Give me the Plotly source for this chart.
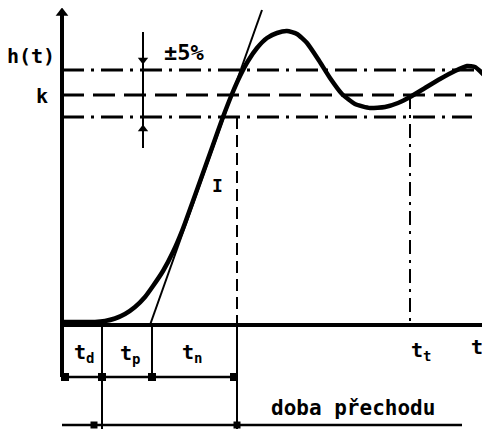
import plotly.graph_objects as go

# ---- data (time units, response units) ----
t_curve = [0, 33, 43, 53, 63, 73, 83, 91, 101, 111, 121, 131, 141, 151, 161, 170, 178, 186, 195,
           205, 215, 225, 235, 245, 256, 268, 280, 293, 308, 323, 336, 348, 363, 378, 393, 405, 413,
           418, 423]
h_curve = [3, 3, 4, 6.5, 11, 18, 28, 39, 54, 73, 96.5, 124, 152, 180, 208, 231, 249, 264, 277,
           287, 292, 294, 291, 282, 266, 247, 231, 221, 217, 218, 222, 228, 237, 246, 254, 259, 258,
           254, 249]
tangent_t = [88, 200]
tangent_h = [0, 315]
K = 230
BAND_HI = 255
BAND_LO = 208
T_D = 40
T_P = 90
T_N = 175
T_T = 348
T_END = 426
H_TOP = 310
DIM1 = -52
DIM2 = -100
PCT_T = 81

fig = go.Figure()

def line(x, y, w=3, dash="solid"):
    fig.add_trace(go.Scatter(x=x, y=y, mode="lines", line=dict(color="black", width=w, dash=dash),
                             hoverinfo="skip", showlegend=False))

# band lines
line([0, 413], [BAND_HI, BAND_HI], 3, "22px,7px,3px,7px")
line([0, 410], [K, K], 3, "22px,9px")
line([0, 410], [BAND_LO, BAND_LO], 3, "22px,7px,3px,7px")

# dashed verticals
line([T_N, T_N], [BAND_LO, 0], 2, "12px,6px")
line([T_T, T_T], [K, 0], 2, "14px,6px,3px,6px")
line([T_N, T_N], [0, -104], 2)
line([T_D, T_D], [0, -104], 2)
line([T_P, T_P], [0, DIM1], 2)

# axes
line([0, 0], [DIM1, H_TOP], 4)
line([0, T_END], [0, 0], 4)

# dimension lines
line([0, T_N], [DIM1, DIM1], 2.5)
line([0, 400], [DIM2, DIM2], 2.5)

# +-5% marker line
line([PCT_T, PCT_T], [177, 293], 2)

# tangent
line(tangent_t, tangent_h, 2)

# response curve
fig.add_trace(go.Scatter(x=t_curve, y=h_curve, mode="lines",
                         line=dict(color="black", width=4.5, shape="spline", smoothing=0.5),
                         hoverinfo="skip", showlegend=False))

# arrowheads
fig.add_trace(go.Scatter(x=[0], y=[H_TOP + 2], mode="markers",
                         marker=dict(symbol="triangle-up", size=11, color="black"),
                         hoverinfo="skip", showlegend=False))
fig.add_trace(go.Scatter(x=[T_END], y=[0], mode="markers",
                         marker=dict(symbol="triangle-right", size=12, color="black"),
                         hoverinfo="skip", showlegend=False))
fig.add_trace(go.Scatter(x=[PCT_T, PCT_T], y=[265, 196], mode="markers",
                         marker=dict(symbol=["triangle-down", "triangle-up"], size=9, color="black"),
                         hoverinfo="skip", showlegend=False))
fig.add_trace(go.Scatter(x=[3, T_D, T_P, T_N - 3], y=[DIM1] * 4, mode="markers",
                         marker=dict(symbol="square", size=8, color="black"),
                         hoverinfo="skip", showlegend=False))
fig.add_trace(go.Scatter(x=[T_D - 8, T_N], y=[DIM2, DIM2], mode="markers",
                         marker=dict(symbol="square", size=7, color="black"),
                         hoverinfo="skip", showlegend=False))

F = "DejaVu Sans Mono"
def txt(x, y, s, size=20):
    fig.add_annotation(x=x, y=y, text="<b>" + s + "</b>", showarrow=False, xref="x", yref="y",
                       font=dict(family=F, size=size, color="black"))

txt(-31, 269, "h(t)")
txt(-20, 229, "k")
txt(122, 273, "±5%", 22)
txt(155, 140, "I", 18)
txt(22, -28, "t<sub>d</sub>")
txt(68, -29, "t<sub>p</sub>")
txt(130, -28, "t<sub>n</sub>")
txt(359, -26, "t<sub>t</sub>")
txt(415, -22, "t")
txt(291, -83, "doba přechodu", 21)

fig.update_layout(width=482, height=421, margin=dict(l=0, r=0, t=0, b=0),
                  paper_bgcolor="white", plot_bgcolor="white",
                  xaxis=dict(range=[-54, 428], visible=False, fixedrange=True),
                  yaxis=dict(range=[-104, 317], visible=False, fixedrange=True))
fig.write_html("out.html")
